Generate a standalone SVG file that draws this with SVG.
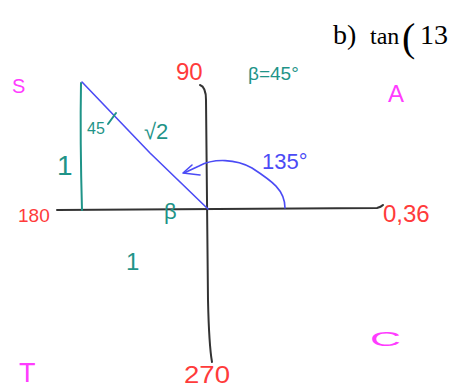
<svg xmlns="http://www.w3.org/2000/svg" width="454" height="390" viewBox="0 0 454 390">
<style>
.ax{fill:none;stroke:#333;stroke-width:2;stroke-linecap:round}
.g{fill:none;stroke:#1f9488;stroke-width:2;stroke-linecap:round}
.b{fill:none;stroke:#4b4bf5;stroke-width:1.6;stroke-linecap:round;stroke-linejoin:round}
text{font-family:"Liberation Sans",Arial,sans-serif}
.tg{fill:#1f9488}.tr{fill:#ff3b3b}.tm{fill:#ff3cff}.tb{fill:#4b4bf5}
.ser{font-family:"Liberation Serif","Times New Roman",serif;fill:#000}
</style>
<rect width="454" height="390" fill="#fff"/>
<g id="connectors">
<path class="ax" d="M57,210 Q220,209 377,208 Q381,207 383,205"/>
<path class="ax" d="M200,85 Q206,87 206,100 L208,300 Q209,345 212,362"/>
<path class="g" d="M81,83 Q80,140 82,210"/>
<path class="b" d="M82,82 L150,153 L208,209"/>
<path class="g" d="M108,124 L116,113"/>
<path class="b" d="M285,208 C285,190 272,181 252,168 C236,159 214,158 199,166 L184,173"/>
<path class="b" d="M192,165 L183,173 L200,175"/>
</g>
<g id="title"><text class="ser" y="44" font-size="28"><tspan x="333">b)</tspan><tspan x="370" font-size="24">tan</tspan><tspan x="402" y="51" font-size="40">(</tspan><tspan x="420" y="44">13</tspan></text></g>
<g id="S"><text class="tm" x="12" y="93" font-size="20">S</text></g>
<g id="A"><text class="tm" x="388" y="102" font-size="24">A</text></g>
<g id="T"><text class="tm" x="19" y="382" font-size="27">T</text></g>
<g id="C"><text class="tm" x="370" y="346" font-size="20" textLength="31" lengthAdjust="spacingAndGlyphs">C</text></g>
<g id="l90"><text class="tr" x="176" y="80" font-size="24">90</text></g>
<g id="l180"><text class="tr" x="18" y="222" font-size="19">180</text></g>
<g id="l270"><text class="tr" x="184" y="383" font-size="23" textLength="46" lengthAdjust="spacingAndGlyphs">270</text></g>
<g id="l0"><text class="tr" x="383" y="222" font-size="24">0,36</text></g>
<g id="beta45"><text class="tg" x="248" y="80" font-size="19">β=45°</text></g>
<g id="a45"><text class="tg" x="87" y="134" font-size="16">45</text></g>
<g id="sqrt2"><text class="tg" x="144" y="139" font-size="22">√2</text></g>
<g id="side1"><text class="tg" x="57" y="175" font-size="28">1</text></g>
<g id="betaL"><text class="tg" x="164" y="219" font-size="22">β</text></g>
<g id="base1"><text class="tg" x="126" y="270" font-size="24">1</text></g>
<g id="a135"><text class="tb" x="262" y="169" font-size="22">135°</text></g>
</svg>
